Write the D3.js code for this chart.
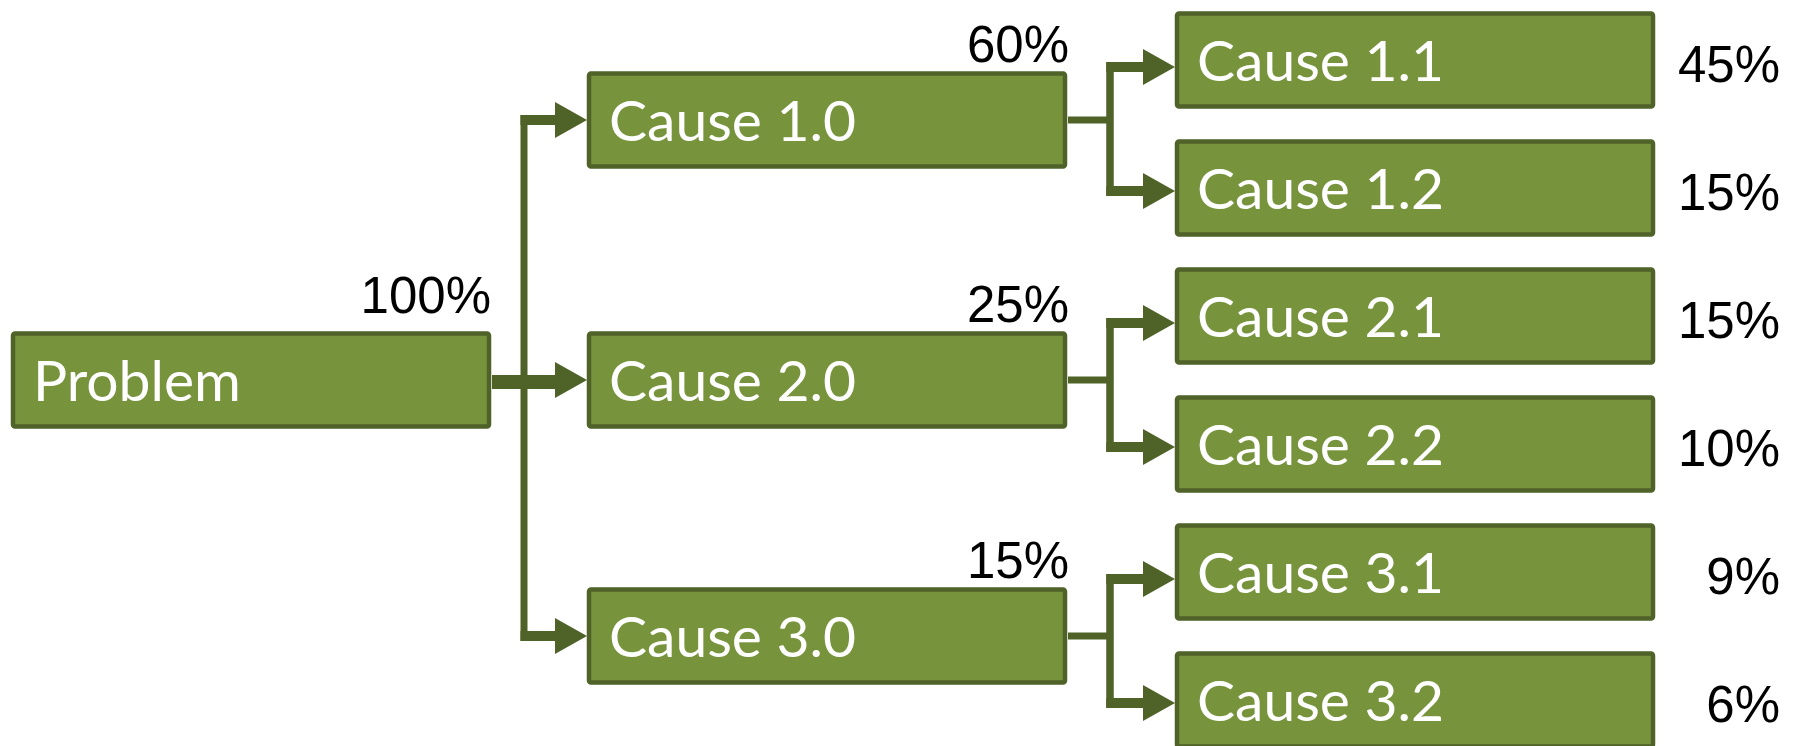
<!DOCTYPE html>
<html>
<head>
<meta charset="utf-8">
<script src="https://cdn.jsdelivr.net/npm/d3@7"></script>
<style>
  html, body { margin: 0; padding: 0; background: #ffffff; overflow: hidden; }
  svg { display: block; }
</style>
</head>
<body>
<svg id="chart" width="1798" height="746"></svg>
<script>
// Cause breakdown tree: problem -> main causes -> sub-causes, each with its share.
const rootName = "Problem";
const rootShare = 100;
const causeNames = ["Cause 1.0", "Cause 2.0", "Cause 3.0"];
const causeShares = [60, 25, 15];
const subNames = ["Cause 1.1", "Cause 1.2", "Cause 2.1", "Cause 2.2", "Cause 3.1", "Cause 3.2"];
const subShares = [45, 15, 15, 10, 9, 6];
const subParent = [0, 0, 1, 1, 2, 2];

// Build the hierarchy from the flat arrays.
const treeData = {
  name: rootName, share: rootShare,
  children: causeNames.map((n, i) => ({
    name: n, share: causeShares[i],
    children: subNames
      .map((s, j) => ({ name: s, share: subShares[j], leaf: j, parent: subParent[j] }))
      .filter(d => d.parent === i)
  }))
};
const root = d3.hierarchy(treeData);

// Leaves get consecutive slots; parents sit at the mean slot of their children.
root.eachAfter(d => {
  if (!d.children) d.slot = d.data.leaf;
  else d.slot = d3.mean(d.children, c => c.slot);
});

const fillColor = "#77933c";
const lineColor = "#4f6228";
const boxW = 480;
const boxH = 97;

const xLeft = d3.scaleLinear().domain([0, 1, 2]).range([11, 587, 1175]);
const yCenter = d3.scaleLinear().domain([0, 5]).range([60, 700]);

// Upper main causes are nudged up a little to leave room for their share label.
const boxTop = d => yCenter(d.slot) - boxH / 2 - (d.depth === 1 && d.slot < root.slot ? 4 : 0);
const boxMid = d => boxTop(d) + boxH / 2;

const svg = d3.select("#chart");
const gLines = svg.append("g");
const gBoxes = svg.append("g");
const gText = svg.append("g");

const arrowLen = 32, arrowHalf = 18;

function arrowHead(xTip, y) {
  gLines.append("path")
    .attr("d", `M${xTip - arrowLen},${y - arrowHalf} L${xTip},${y} L${xTip - arrowLen},${y + arrowHalf} Z`)
    .attr("fill", lineColor);
}

function hLine(x1, x2, y, w) {
  gLines.append("line")
    .attr("x1", x1).attr("x2", x2).attr("y1", y).attr("y2", y)
    .attr("stroke", lineColor).attr("stroke-width", w);
}

function vLine(x, y1, y2, w) {
  gLines.append("line")
    .attr("x1", x).attr("x2", x).attr("y1", y1).attr("y2", y2)
    .attr("stroke", lineColor).attr("stroke-width", w);
}

// Connectors from the problem to the main causes.
{
  const trunkX = 524;
  const kids = root.children;
  const parentRight = xLeft(0) + boxW + 1;
  const ys = kids.map(k => boxMid(k));
  vLine(trunkX, ys[0] - 5, ys[ys.length - 1] + 5, 7);
  kids.forEach((k, i) => {
    const tip = xLeft(1);
    const y = ys[i];
    const straight = Math.abs(boxMid(k) - boxMid(root)) < 1;
    if (straight) hLine(parentRight, tip - arrowLen + 1, y + 2, 14);
    else hLine(trunkX - 3.5, tip - arrowLen + 1, y, 10);
    arrowHead(tip, y);
  });
}

// Connectors from each main cause to its sub-causes.
root.children.forEach(p => {
  const elbowX = 1110;
  const pRight = xLeft(1) + boxW + 1;
  hLine(pRight, elbowX, boxMid(p), 7);
  const ys = p.children.map((c, i) => boxMid(c) + (i === 0 ? 7 : 3));
  vLine(elbowX, ys[0] - 5, ys[ys.length - 1] + 5, 7.5);
  p.children.forEach((c, i) => {
    const tip = xLeft(2);
    hLine(elbowX - 3.75, tip - arrowLen + 1, ys[i], 10);
    arrowHead(tip, ys[i]);
  });
});

// Boxes with their labels.
const nodes = root.descendants();
gBoxes.selectAll("rect")
  .data(nodes)
  .join("rect")
  .attr("x", d => xLeft(d.depth) + 2)
  .attr("y", d => boxTop(d) + 2)
  .attr("width", boxW - 4)
  .attr("height", boxH - 4)
  .attr("rx", 2)
  .attr("fill", fillColor)
  .attr("stroke", lineColor)
  .attr("stroke-width", 4.5);

gText.selectAll("text.name")
  .data(nodes)
  .join("text")
  .attr("class", "name")
  .attr("x", d => xLeft(d.depth) + 22)
  .attr("y", d => boxMid(d) + 21)
  .attr("fill", "#ffffff")
  .attr("font-family", "Lato, 'Open Sans', sans-serif")
  .attr("font-size", 57)
  .text(d => d.data.name);

// Shares: above the box for the problem and main causes, to the right for sub-causes.
const pctFont = "'Liberation Sans', Arial, sans-serif";
gText.selectAll("text.share")
  .data(nodes)
  .join("text")
  .attr("class", "share")
  .attr("text-anchor", "end")
  .attr("x", d => d.depth === 2 ? 1780 : xLeft(d.depth) + boxW + (d.depth === 0 ? 0 : 2))
  .attr("y", d => {
    if (d.depth === 0) return boxTop(d) - 19;
    if (d.depth === 1) return boxTop(d) - 10;
    return boxMid(d) + 22;
  })
  .attr("fill", "#000000")
  .attr("font-family", pctFont)
  .attr("font-size", 51)
  .text(d => d.data.share + "%");
</script>
</body>
</html>
